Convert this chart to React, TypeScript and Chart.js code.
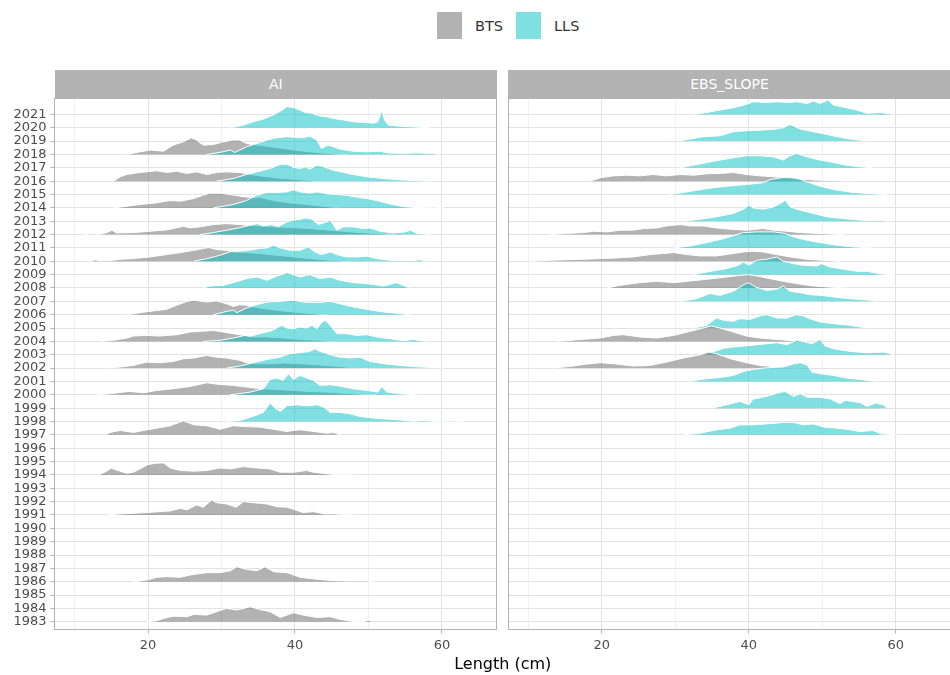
import React, { useEffect, useRef } from "react";
import { Chart, registerables } from "chart.js";

Chart.register(...registerables);

type Ridge = [number, number][]; // [length cm, scaled density height (rows)]

// ---------- tick labels / axes ----------
const YEAR_TICKS = [1983, 1984, 1985, 1986, 1987, 1988, 1989, 1990, 1991, 1992, 1993, 1994, 1995, 1996, 1997, 1998, 1999, 2000, 2001, 2002, 2003, 2004, 2005, 2006, 2007, 2008, 2009, 2010, 2011, 2012, 2013, 2014, 2015, 2016, 2017, 2018, 2019, 2020, 2021];
const X_GRID = [10, 20, 30, 40, 50, 60];
const X_LABELED = [20, 40, 60];
const PANELS = ["AI", "EBS_SLOPE"];
const SURVEYS = ["BTS", "LLS"];

// ---------- AI panel ----------
const AI_LLS_2020: Ridge = [[31.2,0],[33,0.2],[34.3,0.45],[35.7,0.65],[37,0.95],[38.2,1.3],[38.9,1.58],[39.8,1.52],[40.7,1.32],[41.4,1.15],[42.3,1.08],[43.2,0.9],[44.3,0.82],[45.2,0.7],[46.6,0.58],[47.9,0.45],[49.3,0.4],[50.7,0.35],[51.3,0.45],[51.8,1.3],[52.2,0.58],[52.7,0.2],[54.3,0.12],[56.5,0.05],[58.4,0]];
const AI_BTS_2018: Ridge = [[17.1,0],[18.9,0.2],[20.3,0.33],[22.1,0.25],[23.4,0.7],[24.8,0.95],[25.9,1.25],[26.6,1.08],[27.5,0.7],[28.9,0.75],[30.2,0.95],[31.6,1.08],[32.5,1.08],[33.4,0.82],[34.3,0.75],[36.2,0.62],[38.4,0.45],[40.7,0.28],[43,0.15],[45.2,0.05],[47,0]];
const AI_LLS_2018: Ridge = [[28,0],[30.2,0.2],[31.2,0.33],[31.8,0.15],[33.4,0.58],[34.8,0.82],[36.2,1.08],[37.5,1.25],[38.9,1.33],[40.2,1.28],[41.1,1.25],[42,1.38],[43,1.08],[43.6,0.45],[44.5,0.7],[45.2,0.58],[46.1,0.4],[47.9,0.25],[49.8,0.2],[51.6,0.25],[52.5,0.12],[54.3,0.08],[56.5,0.12],[58.8,0.08],[59.5,0]];
const AI_BTS_2016: Ridge = [[15.3,0],[16.2,0.33],[17.1,0.5],[18.9,0.65],[21.2,0.78],[22.5,0.65],[23.9,0.75],[25.3,0.58],[26.6,0.7],[28,0.5],[29.3,0.65],[30.7,0.7],[32.5,0.65],[33.9,0.5],[36.2,0.33],[38.4,0.2],[40.7,0.1],[43,0]];
const AI_LLS_2016: Ridge = [[29.3,0],[31.6,0.2],[33.4,0.5],[35.2,0.75],[36.6,0.95],[38,1.25],[38.9,1.28],[39.8,1.03],[40.7,0.95],[41.4,1.08],[42,0.9],[43,1.2],[43.9,1.08],[45.2,0.82],[46.6,0.65],[47.9,0.5],[49.8,0.33],[52,0.2],[54.3,0.1],[58.4,0]];
const AI_BTS_2014: Ridge = [[15.3,0],[17.1,0.12],[18.9,0.25],[21.2,0.38],[23,0.55],[24.4,0.5],[26.2,0.7],[27.5,0.95],[28.4,1.1],[29.8,1.1],[31.2,1.0],[32.5,0.88],[34.3,0.75],[35.2,0.8],[37.1,0.55],[39.3,0.38],[41.6,0.25],[43.9,0.12],[46.1,0]];
const AI_LLS_2014: Ridge = [[28.9,0],[31.6,0.25],[33.4,0.55],[34.8,0.95],[36.2,1.15],[37.5,1.15],[38.9,1.2],[39.8,1.35],[40.7,1.2],[42,1.1],[43,1.2],[44.3,1.05],[45.7,1.0],[47,0.95],[48.4,0.8],[49.8,0.7],[51.1,0.55],[52.9,0.3],[54.7,0.1],[56.5,0.02],[58.8,0.05],[60.2,0]];
const AI_BTS_2012: Ridge = [[11.2,0],[12.1,0.05],[13.5,0.03],[14.4,0.15],[15.1,0.33],[15.7,0.12],[18,0.15],[20.3,0.25],[22.5,0.35],[23.9,0.5],[24.8,0.62],[25.7,0.5],[27.1,0.58],[28.9,0.75],[30.7,0.82],[32.5,0.75],[33.4,0.7],[35.2,0.65],[37.5,0.58],[39.8,0.52],[42,0.45],[44.3,0.35],[46.6,0.25],[48.8,0.15],[51.1,0.08],[53.4,0]];
const AI_LLS_2012: Ridge = [[27.1,0],[28.9,0.15],[30.7,0.33],[32.5,0.52],[33.9,0.7],[34.8,0.82],[35.7,0.65],[36.8,0.75],[37.7,0.58],[38.9,0.95],[39.8,1.08],[40.7,1.15],[41.4,1.25],[42.3,1.15],[43.2,0.75],[44.3,0.95],[44.8,1.08],[45.7,0.33],[46.6,0.58],[47.9,0.58],[49.3,0.45],[50.2,0.5],[51.6,0.25],[53.4,0.12],[55,0.2],[55.7,0.33],[56.6,0.08],[58.4,0]];
const AI_BTS_2010: Ridge = [[12.1,0],[12.8,0.12],[13.5,0.03],[14.8,0.05],[16.2,0.15],[18,0.2],[20.3,0.33],[22.5,0.5],[24.4,0.65],[26.2,0.82],[27.5,0.95],[28.2,1.03],[29.3,0.88],[30.7,0.82],[31.6,0.7],[33.4,0.65],[35.2,0.58],[37.5,0.45],[39.8,0.33],[42,0.2],[44.8,0.08],[47.5,0]];
const AI_LLS_2010: Ridge = [[26.2,0],[28,0.2],[29.8,0.45],[31.2,0.72],[33.4,0.8],[35.2,0.95],[36.2,1.0],[37.1,1.2],[38,1.0],[39.3,0.82],[40.7,0.82],[41.8,1.08],[42.7,0.7],[43.6,0.5],[44.8,0.7],[45.7,0.5],[47,0.33],[48.4,0.33],[49.8,0.38],[51.1,0.2],[53.4,0.05],[56.1,0.05],[57,0.12],[57.7,0]];
const AI_LLS_2008: Ridge = [[27.5,0],[28.4,0.15],[30.2,0.2],[31.6,0.4],[33.4,0.7],[34.8,0.82],[36.2,0.58],[37.5,0.88],[38.9,1.15],[39.8,1.0],[40.7,0.82],[42,1.0],[43.4,0.7],[44.8,0.82],[46.1,0.58],[47.9,0.4],[49.8,0.33],[52,0.15],[53.8,0.4],[55.6,0]];
const AI_BTS_2006: Ridge = [[17.1,0],[18.9,0.15],[20.7,0.28],[22.5,0.4],[23.9,0.7],[25.3,1.0],[26.2,1.08],[28,0.95],[29.3,1.03],[30.7,0.82],[31.6,0.62],[32.5,0.75],[33.4,0.7],[35.2,0.5],[37.5,0.33],[39.8,0.2],[42,0.08],[44.3,0]];
const AI_LLS_2006: Ridge = [[28.9,0],[30.7,0.25],[31.6,0.33],[32.1,0.15],[33.4,0.5],[34.8,0.75],[36.2,0.95],[38,1.0],[39.8,1.08],[41.1,0.95],[43,0.9],[44.8,1.0],[46.1,0.82],[47.9,0.58],[49.8,0.4],[52,0.2],[54.3,0.08],[55.6,0]];
const AI_BTS_2004: Ridge = [[13.5,0],[15.3,0.08],[17.1,0.25],[18,0.4],[19.8,0.45],[21.6,0.4],[23.9,0.5],[25.7,0.7],[27.1,0.75],[28.9,0.82],[30.2,0.7],[31.6,0.58],[33,0.45],[34.3,0.33],[36.2,0.33],[38.4,0.25],[40.7,0.15],[43,0.08],[45.2,0]];
const AI_LLS_2004: Ridge = [[27.5,0],[29.8,0.08],[31.6,0.25],[33.2,0.45],[33.9,0.38],[35.2,0.58],[36.6,0.75],[37.5,1.0],[38.2,1.2],[38.9,1.0],[39.8,0.95],[40.7,1.08],[41.6,1.0],[42.3,1.2],[43,0.95],[43.6,1.4],[44.1,1.58],[44.8,1.2],[45.7,0.58],[47,0.58],[48.4,0.45],[49.8,0.5],[51.1,0.33],[52.9,0.2],[54.7,0.05],[56.1,0.15],[57.2,0.05],[57.9,0]];
const AI_BTS_2002: Ridge = [[14.4,0],[16.2,0.08],[18,0.2],[19.8,0.45],[21.6,0.4],[23.4,0.5],[24.8,0.7],[26.2,0.75],[28,0.95],[29.3,0.82],[30.7,0.75],[32.5,0.58],[33.4,0.4],[34.3,0.33],[36.2,0.33],[38.4,0.38],[40.7,0.33],[43,0.25],[45.2,0.15],[47.5,0.05],[49.8,0]];
const AI_LLS_2002: Ridge = [[30.7,0],[32.5,0.15],[34.3,0.4],[36.2,0.65],[38,0.82],[39.3,1.08],[40.7,1.15],[42,1.25],[42.7,1.45],[43.4,1.25],[44.8,1.0],[46.1,0.82],[47.5,0.75],[48.8,0.82],[50.2,0.5],[52,0.33],[54.3,0.2],[56.6,0.1],[60.2,0]];
const AI_BTS_2000: Ridge = [[13,0],[14.8,0.08],[16.6,0.2],[17.5,0.25],[19.4,0.15],[21.2,0.33],[23.4,0.45],[25.7,0.62],[28,0.9],[29.3,0.8],[31.6,0.7],[33.4,0.58],[35.2,0.45],[37.5,0.4],[39.8,0.33],[42,0.25],[44.3,0.2],[46.6,0.12],[48.8,0.05],[51.1,0]];
const AI_LLS_2000: Ridge = [[31.2,0],[33.9,0.2],[35.7,0.45],[36.6,1.15],[37.5,1.25],[38.4,1.08],[39.1,1.58],[39.8,1.15],[40.7,1.45],[41.6,1.25],[42.5,1.08],[43.4,0.7],[44.8,0.75],[46.1,0.65],[47.9,0.45],[49.8,0.33],[51.3,0.2],[51.8,0.62],[52.5,0.2],[54.3,0.08],[56.6,0]];
const AI_LLS_1998: Ridge = [[30.7,0],[32.5,0.08],[34.3,0.38],[35.7,0.68],[36.6,1.38],[37.3,1.0],[38,0.75],[38.9,1.18],[40.2,1.25],[41.6,1.18],[43,1.25],[43.9,1.08],[44.8,0.68],[46.1,0.68],[47.5,0.58],[48.8,0.38],[50.7,0.25],[52.5,0.18],[54.3,0.12],[56.1,0.02],[57.5,0.08],[58.8,0.01],[61.5,0.03],[62.9,0]];
const AI_BTS_1997: Ridge = [[14.2,0],[14.8,0.18],[16.2,0.33],[18,0.18],[19.4,0.33],[21.2,0.5],[23,0.68],[24.8,1.05],[26.2,0.75],[28,0.68],[29.8,0.42],[31.6,0.68],[33.4,0.62],[35.2,0.58],[37.5,0.38],[38.9,0.25],[39.8,0.33],[40.7,0.38],[42.5,0.25],[44.3,0.12],[45.2,0.18],[46.1,0]];
const AI_BTS_1994: Ridge = [[13.2,0],[14.1,0.2],[15,0.5],[15.9,0.33],[17.1,0.12],[18,0.2],[18.9,0.45],[20,0.78],[21.2,0.88],[22.1,0.9],[23,0.52],[24.4,0.33],[26.2,0.28],[28,0.33],[29.8,0.52],[31.2,0.45],[33,0.62],[34.8,0.52],[36.6,0.45],[38,0.2],[39.8,0.2],[41.6,0.33],[42.5,0.2],[44.3,0.08],[45.7,0.02],[48,0]];
const AI_BTS_1991: Ridge = [[14.4,0],[16.2,0.08],[18,0.12],[19.8,0.18],[21.6,0.25],[23,0.3],[24.4,0.5],[25.3,0.38],[26.6,0.75],[27.5,0.58],[28.7,1.12],[29.3,0.92],[30.7,0.82],[32,0.58],[33,1.0],[34.3,0.92],[36.2,0.82],[37.5,0.62],[38.9,0.58],[39.8,0.42],[41.1,0.18],[42.5,0.25],[43.9,0.08],[45.2,0.08],[48,0]];
const AI_BTS_1986: Ridge = [[18,0],[19.8,0.12],[21.2,0.33],[22.5,0.38],[24.4,0.33],[25.7,0.5],[28,0.68],[29.8,0.68],[31.2,0.82],[32.1,1.12],[33.4,0.92],[34.8,0.82],[35.9,1.12],[37.1,0.75],[38.9,0.68],[40.7,0.33],[43,0.18],[45.2,0.08],[47.5,0.05],[49.8,0.05],[50.7,0]];
const AI_BTS_1983: Ridge = [[19.8,0],[21.2,0.08],[22.1,0.25],[23.4,0.42],[25.3,0.38],[26.2,0.55],[28,0.5],[29.3,0.75],[30.7,1.0],[32.1,0.88],[33.9,1.12],[35.2,0.92],[36.6,0.75],[38,0.32],[39.8,0.68],[41.1,0.5],[43,0.32],[44.8,0.38],[46.1,0.18],[47.5,0.05],[48.4,0],[49.3,0],[50,0.12],[50.7,0]];

// ---------- EBS_SLOPE panel ----------
const EBS_LLS_2021: Ridge = [[32.5,0],[34.3,0.15],[36.1,0.33],[37.9,0.5],[39.7,0.75],[40.6,0.95],[42.4,0.9],[43.8,0.95],[45.2,0.9],[46.5,0.95],[47.9,0.82],[48.8,1.0],[49.7,0.82],[50.8,1.08],[51.5,0.7],[53.3,0.5],[54.7,0.33],[56.1,0.08],[57.9,0.15],[59.7,0]];
const EBS_LLS_2019: Ridge = [[30.2,0],[32,0.15],[33.8,0.33],[36.1,0.4],[37.9,0.7],[39.7,0.78],[41.5,0.82],[43.4,0.88],[44.7,1.0],[45.6,1.25],[47,0.9],[48.8,0.7],[50.6,0.5],[52,0.33],[53.8,0.15],[56.1,0]];
const EBS_LLS_2017: Ridge = [[30.7,0],[32.5,0.2],[34.3,0.4],[36.1,0.58],[37.9,0.75],[39.7,0.9],[41.5,0.9],[43.4,0.82],[44.7,0.58],[45.6,0.9],[46.5,1.08],[47.9,0.82],[49.7,0.58],[51.5,0.4],[53.3,0.2],[55.1,0.08],[56.9,0]];
const EBS_BTS_2016: Ridge = [[18.4,0],[19.8,0.25],[21.6,0.4],[23.4,0.45],[25.2,0.4],[27,0.5],[28.8,0.4],[30.7,0.5],[32.5,0.45],[34.3,0.55],[36.1,0.58],[37.9,0.65],[39.7,0.5],[41.5,0.4],[43.4,0.33],[45.2,0.25],[47,0.15],[49.3,0.08],[53.8,0]];
const EBS_LLS_2015: Ridge = [[29.3,0],[31.6,0.2],[34.3,0.45],[37,0.62],[39.7,0.75],[41.9,0.88],[42.9,1.12],[44.3,1.25],[45.6,1.3],[46.7,1.2],[47.9,0.95],[49.7,0.62],[51.5,0.38],[53.8,0.18],[56.1,0.08],[58.8,0]];
const EBS_LLS_2013: Ridge = [[31.1,0],[33.4,0.15],[35.6,0.33],[37.9,0.58],[39.3,0.9],[40,1.2],[40.6,1.0],[42,0.9],[43.4,1.08],[44.5,1.4],[45,1.58],[45.6,1.08],[47,0.82],[48.8,0.58],[50.6,0.33],[53.8,0.15],[56.1,0.05],[57.4,0.08],[59.2,0]];
const EBS_BTS_2012: Ridge = [[13,0],[15.2,0.08],[17.5,0.15],[18.9,0.25],[20.7,0.2],[22.5,0.33],[24.3,0.33],[25.7,0.45],[27.5,0.5],[28.8,0.65],[30.7,0.75],[32,0.65],[33.8,0.65],[35.6,0.5],[37.5,0.4],[39.7,0.33],[41.9,0.45],[43.4,0.33],[45.2,0.25],[47,0.15],[49.7,0.08],[52.9,0]];
const EBS_LLS_2011: Ridge = [[29.8,0],[32,0.15],[34.3,0.4],[36.6,0.7],[38.4,1.0],[39.3,1.15],[41.1,1.2],[43.4,1.2],[45,1.08],[46.1,0.82],[47.9,0.58],[49.7,0.4],[52,0.2],[54.2,0.08],[56.9,0]];
const EBS_BTS_2010: Ridge = [[10.2,0],[13,0.08],[15.2,0.12],[17.5,0.15],[19.8,0.2],[22,0.25],[24.3,0.33],[26.6,0.5],[28.4,0.58],[29.8,0.65],[31.6,0.5],[33.4,0.4],[35.6,0.4],[37.9,0.58],[39.3,0.7],[40.6,0.75],[42,0.7],[43.8,0.5],[45.6,0.33],[47.9,0.15],[50.6,0.05],[52.4,0]];
const EBS_LLS_2009: Ridge = [[32.5,0],[34.3,0.2],[37,0.45],[38.6,0.7],[39.3,0.95],[40,0.7],[41.1,1.08],[42.4,1.15],[43.8,1.32],[44.7,1.0],[46.1,0.82],[47.4,0.7],[49.3,0.65],[49.9,0.82],[51,0.58],[52.9,0.4],[54.7,0.25],[56.1,0.25],[57.9,0.05],[59.7,0]];
const EBS_BTS_2008: Ridge = [[20.7,0],[22.5,0.2],[25.2,0.4],[27.5,0.5],[29.8,0.4],[31.6,0.5],[34.3,0.65],[37,0.82],[38.8,0.95],[40,1.0],[41.1,0.9],[42.9,0.7],[44.7,0.5],[46.5,0.33],[48.8,0.15],[51.5,0.05],[53.3,0]];
const EBS_LLS_2007: Ridge = [[30.7,0],[32.9,0.2],[34.7,0.58],[36.1,0.45],[37.9,0.75],[39.3,1.25],[40,1.4],[40.9,1.08],[42.4,0.82],[43.8,0.9],[44.7,1.15],[45.6,0.75],[47,0.65],[48.3,0.5],[49.7,0.45],[51.5,0.33],[53.8,0.2],[56.1,0.1],[57.4,0]];
const EBS_LLS_2005: Ridge = [[32.5,0],[34.3,0.2],[35.6,0.75],[36.6,0.58],[37.9,0.5],[38.8,0.7],[40.2,0.65],[41.5,0.9],[42.4,1.0],[43.8,0.75],[45.2,0.75],[46.5,1.0],[47.4,0.9],[48.3,0.7],[49.7,0.45],[51.5,0.33],[53.8,0.2],[56.1,0]];
const EBS_BTS_2004: Ridge = [[13.9,0],[16.6,0.12],[19.8,0.25],[21.6,0.45],[22.9,0.5],[25.2,0.33],[27.5,0.25],[29.8,0.45],[32,0.75],[33.8,1.0],[34.9,1.15],[36.1,1.0],[37.9,0.7],[39.7,0.4],[41.5,0.25],[43.8,0.15],[46.1,0.05],[47.9,0]];
const EBS_LLS_2003: Ridge = [[33.5,0],[34.5,0.12],[35.6,0.3],[36.6,0.48],[37.9,0.58],[40.2,0.7],[42.4,0.82],[43.8,0.9],[45.2,0.75],[46.5,1.08],[47.4,1.0],[48.6,0.82],[49.7,1.15],[50.4,0.65],[51.5,0.45],[53.8,0.25],[56.1,0.15],[58.3,0.2],[59.7,0]];
const EBS_BTS_2002: Ridge = [[13.4,0],[16.1,0.15],[17.9,0.3],[19.8,0.4],[21.6,0.33],[24.3,0.15],[26.6,0.2],[28.8,0.45],[31.1,0.75],[33.4,1.0],[34.5,1.2],[35.6,1.08],[37.5,0.7],[39.7,0.4],[41.5,0.2],[44.3,0.08],[47,0]];
const EBS_LLS_2001: Ridge = [[32,0],[33.4,0.15],[35.2,0.25],[36.6,0.33],[37.9,0.45],[39.3,0.75],[40.6,0.9],[42,1.0],[43.4,1.05],[44.7,1.08],[46.1,1.32],[47,1.4],[47.9,1.25],[48.6,0.7],[49.7,0.58],[51.5,0.45],[53.3,0.25],[55.1,0.15],[57.4,0]];
const EBS_LLS_1999: Ridge = [[35,0],[37,0.25],[38.8,0.5],[40,0.25],[40.6,0.68],[42.4,0.88],[44.3,1.18],[44.9,1.25],[46.1,0.88],[47,1.08],[47.9,0.82],[49.7,0.82],[51.1,0.68],[52.4,0.33],[53.1,0.58],[54.2,0.5],[55.1,0.42],[56.1,0.12],[57.2,0.38],[58.3,0.25],[58.8,0]];
const EBS_LLS_1997: Ridge = [[31.1,0],[33.4,0.12],[35.6,0.38],[37.5,0.5],[38.8,0.75],[40.6,0.75],[42.4,0.82],[44.7,0.92],[46.1,0.92],[47.4,0.75],[48.8,0.82],[50.2,0.58],[52,0.5],[53.3,0.42],[55.1,0.25],[56.9,0.33],[57.9,0.08],[60.2,0]];

const AI_BTS: [number, Ridge][] = [[2018, AI_BTS_2018], [2016, AI_BTS_2016], [2014, AI_BTS_2014], [2012, AI_BTS_2012], [2010, AI_BTS_2010], [2006, AI_BTS_2006], [2004, AI_BTS_2004], [2002, AI_BTS_2002], [2000, AI_BTS_2000], [1997, AI_BTS_1997], [1994, AI_BTS_1994], [1991, AI_BTS_1991], [1986, AI_BTS_1986], [1983, AI_BTS_1983]];
const AI_LLS: [number, Ridge][] = [[2020, AI_LLS_2020], [2018, AI_LLS_2018], [2016, AI_LLS_2016], [2014, AI_LLS_2014], [2012, AI_LLS_2012], [2010, AI_LLS_2010], [2008, AI_LLS_2008], [2006, AI_LLS_2006], [2004, AI_LLS_2004], [2002, AI_LLS_2002], [2000, AI_LLS_2000], [1998, AI_LLS_1998]];
const EBS_BTS: [number, Ridge][] = [[2016, EBS_BTS_2016], [2012, EBS_BTS_2012], [2010, EBS_BTS_2010], [2008, EBS_BTS_2008], [2004, EBS_BTS_2004], [2002, EBS_BTS_2002]];
const EBS_LLS: [number, Ridge][] = [[2021, EBS_LLS_2021], [2019, EBS_LLS_2019], [2017, EBS_LLS_2017], [2015, EBS_LLS_2015], [2013, EBS_LLS_2013], [2011, EBS_LLS_2011], [2009, EBS_LLS_2009], [2007, EBS_LLS_2007], [2005, EBS_LLS_2005], [2003, EBS_LLS_2003], [2001, EBS_LLS_2001], [1999, EBS_LLS_1999], [1997, EBS_LLS_1997]];

// ---------- styling ----------
const X_MIN = 7.26;
const X_MAX = 67.5;
const Y_MIN = 1982.42;
const Y_MAX = 2022.23;
const FILLS = ["rgba(102,102,102,0.5)", "rgba(0,191,196,0.5)"];
const GRID_MAJOR = "#E2E2E2";
const GRID_MINOR = "#F1F1F1";
const BORDER = "#B3B3B3";
const FONT = "'DejaVu Sans', 'Liberation Sans', sans-serif";

function buildDatasets(bts: [number, Ridge][], lls: [number, Ridge][]) {
  const items: { year: number; s: number; r: Ridge }[] = [];
  bts.forEach(([year, r]) => items.push({ year, s: 0, r }));
  lls.forEach(([year, r]) => items.push({ year, s: 1, r }));
  // drawing order: upper rows first, lower rows on top; LLS above BTS in a row
  items.sort((a, b) => b.year - a.year || a.s - b.s);
  const n = items.length;
  return items.map((it, i) => ({
    label: `${SURVEYS[it.s]} ${it.year}`,
    data: it.r.map(([x, h]) => ({ x, y: it.year + h })),
    fill: { value: it.year },
    backgroundColor: FILLS[it.s],
    borderColor: "#FFFFFF",
    borderWidth: 1,
    pointRadius: 0,
    pointHoverRadius: 0,
    tension: 0,
    order: n - i,
  }));
}

const panelBorder = {
  id: "panelBorder",
  afterDatasetsDraw(chart: any) {
    const { ctx, chartArea: a } = chart;
    ctx.save();
    ctx.strokeStyle = BORDER;
    ctx.lineWidth = 1;
    const l = Math.floor(a.left) + 0.5;
    const t = Math.floor(a.top) + 0.5;
    const r = Math.floor(a.right) - 0.5;
    const b = Math.floor(a.bottom) + 0.5;
    ctx.strokeRect(l, t, r - l, b - t);
    ctx.restore();
  },
};

function makeOptions(showY: boolean, yWidth: number) {
  return {
    animation: false as const,
    responsive: false,
    maintainAspectRatio: false,
    events: [] as any[],
    layout: { padding: { top: 1, right: showY ? 1 : 0, left: 0, bottom: 0 } },
    plugins: { legend: { display: false }, tooltip: { enabled: false } },
    scales: {
      x: {
        type: "linear" as const,
        min: X_MIN,
        max: X_MAX,
        afterBuildTicks: (s: any) => {
          s.ticks = X_GRID.map((v) => ({ value: v }));
        },
        afterFit: (s: any) => {
          s.height = 45.5;
          s.paddingLeft = 0;
          s.paddingRight = 0;
          s.paddingTop = 0;
          s.paddingBottom = 0;
        },
        border: { display: false },
        grid: {
          color: (c: any) => (c.tick && X_LABELED.includes(c.tick.value) ? GRID_MAJOR : GRID_MINOR),
          tickColor: (c: any) => (c.tick && X_LABELED.includes(c.tick.value) ? BORDER : "rgba(0,0,0,0)"),
          lineWidth: 1,
          tickLength: 4,
        },
        ticks: {
          autoSkip: false,
          maxRotation: 0,
          padding: 4,
          color: "#4D4D4D",
          font: { family: FONT, size: 13 },
          callback: (v: any) => (X_LABELED.includes(v) ? String(v) : ""),
        },
      },
      y: {
        type: "linear" as const,
        min: Y_MIN,
        max: Y_MAX,
        afterBuildTicks: (s: any) => {
          s.ticks = YEAR_TICKS.map((v) => ({ value: v }));
        },
        afterFit: (s: any) => {
          s.width = yWidth;
          s.paddingLeft = 0;
          s.paddingRight = 0;
          s.paddingTop = 0;
          s.paddingBottom = 0;
        },
        border: { display: false },
        grid: {
          color: GRID_MAJOR,
          lineWidth: 1,
          tickColor: BORDER,
          tickLength: 4,
          drawTicks: showY,
        },
        ticks: {
          display: showY,
          autoSkip: false,
          padding: 4,
          color: "#4D4D4D",
          font: { family: FONT, size: 13 },
          callback: (v: any) => String(v),
        },
      },
    },
  };
}

export default function App() {
  const leftRef = useRef<HTMLCanvasElement | null>(null);
  const rightRef = useRef<HTMLCanvasElement | null>(null);

  useEffect(() => {
    const charts: Chart[] = [];
    if (leftRef.current) {
      charts.push(
        new Chart(leftRef.current, {
          type: "line",
          data: { datasets: buildDatasets(AI_BTS, AI_LLS) as any },
          options: makeOptions(true, 54.5) as any,
          plugins: [panelBorder],
        })
      );
    }
    if (rightRef.current) {
      charts.push(
        new Chart(rightRef.current, {
          type: "line",
          data: { datasets: buildDatasets(EBS_BTS, EBS_LLS) as any },
          options: makeOptions(false, 0) as any,
          plugins: [panelBorder],
        })
      );
    }
    return () => charts.forEach((c) => c.destroy());
  }, []);

  const stripStyle: React.CSSProperties = {
    position: "absolute",
    top: 69.5,
    height: 28,
    background: BORDER,
    color: "#FFFFFF",
    fontFamily: FONT,
    fontSize: 14,
    display: "flex",
    alignItems: "center",
    justifyContent: "center",
  };
  const keyStyle: React.CSSProperties = { position: "absolute", top: 12, width: 25, height: 27 };
  const legendText: React.CSSProperties = {
    position: "absolute",
    top: 17,
    fontFamily: FONT,
    fontSize: 14.5,
    color: "#333333",
    lineHeight: "18px",
  };

  return (
    <div style={{ position: "fixed", left: 0, top: 0, width: 950, height: 675, overflow: "hidden", background: "#FFFFFF" }}>
      <div style={{ ...keyStyle, left: 437, background: FILLS[0] }} />
      <div style={{ ...legendText, left: 475 }}>{SURVEYS[0]}</div>
      <div style={{ ...keyStyle, left: 516, background: FILLS[1] }} />
      <div style={{ ...legendText, left: 554 }}>{SURVEYS[1]}</div>

      <div style={{ ...stripStyle, left: 54.5, width: 442.5 }}>{PANELS[0]}</div>
      <div style={{ ...stripStyle, left: 508, width: 443 }}>{PANELS[1]}</div>

      <canvas ref={leftRef} width={498} height={578} style={{ position: "absolute", left: 0, top: 97 }} />
      <canvas ref={rightRef} width={443} height={578} style={{ position: "absolute", left: 508, top: 97 }} />

      <div
        style={{
          position: "absolute",
          left: 54.5,
          width: 896.5,
          top: 654,
          textAlign: "center",
          fontFamily: FONT,
          fontSize: 16,
          lineHeight: "20px",
          color: "#000000",
        }}
      >
        Length (cm)
      </div>
    </div>
  );
}
